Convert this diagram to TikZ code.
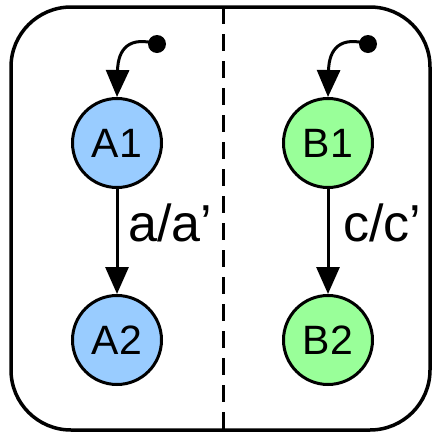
\documentclass[tikz,border=0pt]{standalone}
\usepackage{fontspec}
\setmainfont{Liberation Sans}
\usetikzlibrary{arrows.meta}
\definecolor{stblue}{RGB}{153,204,255}
\definecolor{stgreen}{RGB}{153,255,153}
\begin{document}
\begin{tikzpicture}[x=1pt,y=-1pt,
  state/.style={circle,draw=black,line width=3pt,minimum size=89pt,inner sep=0pt,
    font=\fontsize{41}{41}\selectfont},
  initdot/.style={circle,fill=black,minimum size=18pt,inner sep=0pt},
  trans/.style={line width=3pt,-{Triangle[length=27pt,width=23pt]}},
  lbl/.style={anchor=base west,inner sep=0pt,font=\fontsize{52}{52}\selectfont}]
\useasboundingbox (0,0) rectangle (432,432);
\draw[line width=3.5pt,rounded corners=60pt] (11,7) rectangle (430,430);
\draw[line width=3pt,dash pattern=on 17pt off 10pt] (223,7) -- (223,430);
\node[state,fill=stblue] (A1) at (117,143) {A1};
\node[state,fill=stblue] (A2) at (117,340) {A2};
\node[state,fill=stgreen] (B1) at (328,143) {B1};
\node[state,fill=stgreen] (B2) at (328,340) {B2};
\node[initdot] (iA) at (157,44) {};
\node[initdot] (iB) at (368,44) {};
\draw[trans] (iA.center) .. controls (130,36) and (118,48) .. (A1.north);
\draw[trans] (iB.center) .. controls (341,36) and (329,48) .. (B1.north);
\draw[trans] (A1) -- (A2);
\draw[trans] (B1) -- (B2);
\node[lbl] (la) at (128,241) {a/a’};
\node[lbl] (lc) at (343,241) {c/c’};
\end{tikzpicture}
\end{document}
